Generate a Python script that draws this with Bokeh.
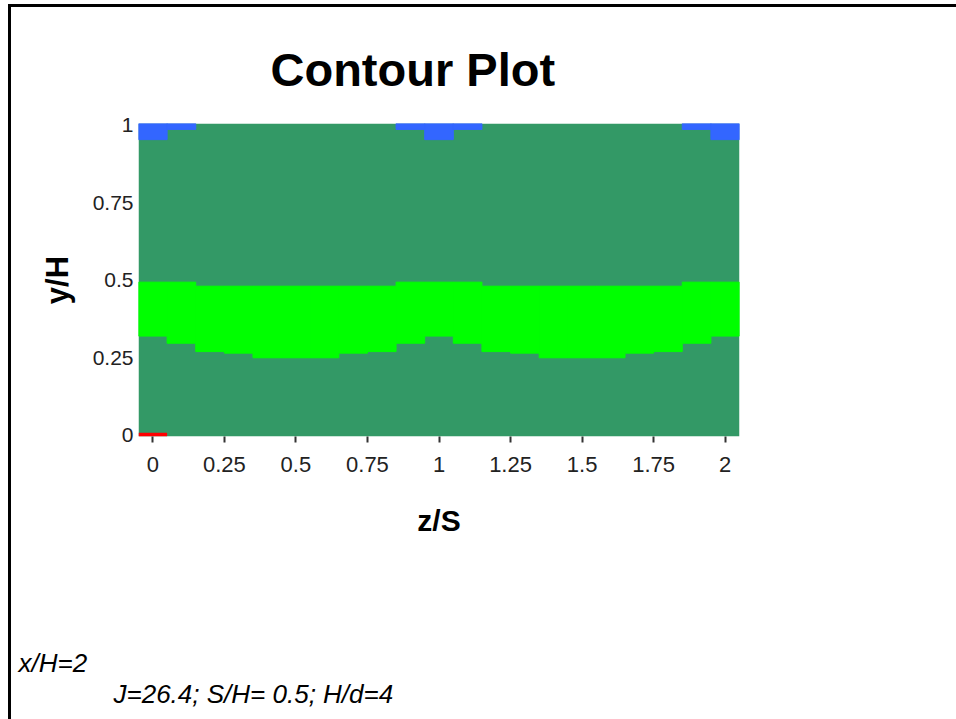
from bokeh.plotting import figure
from bokeh.models import Range1d, FixedTicker, Title, InlineStyleSheet
from bokeh.embed import file_html
from bokeh.resources import INLINE

# ---- data ----
z = [0.0, 0.1, 0.2, 0.3, 0.4, 0.5, 0.6, 0.7, 0.8, 0.9, 1.0,
     1.1, 1.2, 1.3, 1.4, 1.5, 1.6, 1.7, 1.8, 1.9, 2.0]
dz = 0.1
y_lo, y_hi = -0.004, 1.006
# lower / upper edge of the light-green band per z column
green_lo = [0.320, 0.297, 0.270, 0.265, 0.250, 0.250, 0.250, 0.265, 0.270, 0.297, 0.320,
            0.297, 0.270, 0.265, 0.250, 0.250, 0.250, 0.265, 0.270, 0.297, 0.320]
green_hi = [0.494, 0.494, 0.481, 0.481, 0.481, 0.481, 0.481, 0.481, 0.481, 0.494, 0.494,
            0.494, 0.481, 0.481, 0.481, 0.481, 0.481, 0.481, 0.481, 0.494, 0.494]
# lower edge of the blue band (None = no blue in column)
blue_lo = [0.954, 0.987, None, None, None, None, None, None, None, 0.987, 0.954,
           0.987, None, None, None, None, None, None, None, 0.987, 0.954]
# upper edge of the red band (None = no red)
red_hi = [0.008, None, None, None, None, None, None, None, None, None, None,
          None, None, None, None, None, None, None, None, None, None]

x_ticks = [0, 0.25, 0.5, 0.75, 1, 1.25, 1.5, 1.75, 2]
x_tick_labels = ["0", "0.25", "0.5", "0.75", "1", "1.25", "1.5", "1.75", "2"]
y_ticks = [0, 0.25, 0.5, 0.75, 1]
y_tick_labels = ["0", "0.25", "0.5", "0.75", "1"]

title_text = "Contour Plot"
x_label = "z/S"
y_label = "y/H"
note1 = "x/H=2"
note2 = "J=26.4; S/H= 0.5; H/d=4"

DARK = "#339966"
LIGHT = "#00FF00"
BLUE = "#3366FF"
RED = "#FF0000"
FONT = "Liberation Sans"

frame_css = InlineStyleSheet(css="""
:host { position: relative; }
:host::after {
  content: ''; position: absolute; left: 8px; top: 4px; right: 0; bottom: 0;
  border-left: 3px solid #000; border-top: 3px solid #000; pointer-events: none;
}
""")

p = figure(width=956, height=719, output_backend="svg", toolbar_location=None,
           x_range=Range1d(-0.05, 2.05), y_range=Range1d(y_lo, y_hi),
           min_border_left=138, min_border_right=217, min_border_top=123, min_border_bottom=283,
           stylesheets=[frame_css])
p.background_fill_color = "white"
p.border_fill_color = "white"
p.outline_line_color = None
p.xgrid.visible = False
p.ygrid.visible = False

# title
p.title.text = title_text
p.title.text_font = FONT
p.title.text_font_size = "47px"
p.title.text_font_style = "bold"
p.title.text_color = "black"
p.title.align = "left"
p.title.offset = 132
p.title.standoff = 56

# dark green base over the whole grid
p.quad(left=[z[0] - dz / 2], right=[z[-1] + dz / 2], bottom=[y_lo], top=[y_hi],
       fill_color=DARK, line_color=None)

# light green band
p.quad(left=[v - dz / 2 for v in z], right=[v + dz / 2 for v in z],
       bottom=green_lo, top=green_hi, fill_color=LIGHT, line_color=LIGHT, line_width=1)

# blue band at top
bz = [v for v, b in zip(z, blue_lo) if b is not None]
bb = [b for b in blue_lo if b is not None]
p.quad(left=[v - dz / 2 for v in bz], right=[v + dz / 2 for v in bz],
       bottom=bb, top=[y_hi] * len(bb), fill_color=BLUE, line_color=BLUE, line_width=1)

# red band at bottom
rz = [v for v, r in zip(z, red_hi) if r is not None]
rr = [r for r in red_hi if r is not None]
p.quad(left=[v - dz / 2 for v in rz], right=[v + dz / 2 for v in rz],
       bottom=[y_lo] * len(rr), top=rr, fill_color=RED, line_color=None)

# axes
xa = p.xaxis[0]
xa.ticker = FixedTicker(ticks=x_ticks)
xa.major_label_overrides = {t: l for t, l in zip(x_ticks, x_tick_labels)}
xa.axis_line_color = None
xa.major_tick_line_color = "#333333"
xa.major_tick_line_width = 2
xa.major_tick_in = 0
xa.major_tick_out = 6
xa.minor_tick_line_color = None
xa.major_label_standoff = 14
xa.major_label_text_font = FONT
xa.major_label_text_font_size = "22px"
xa.major_label_text_color = "#222222"
xa.axis_label = x_label
xa.axis_label_text_font = FONT
xa.axis_label_text_font_size = "30px"
xa.axis_label_text_font_style = "bold"
xa.axis_label_text_color = "black"
xa.axis_label_standoff = 29

ya = p.yaxis[0]
ya.ticker = FixedTicker(ticks=y_ticks)
ya.major_label_overrides = {t: l for t, l in zip(y_ticks, y_tick_labels)}
ya.axis_line_color = None
ya.major_tick_line_color = None
ya.minor_tick_line_color = None
ya.major_tick_in = 0
ya.major_tick_out = 0
ya.major_label_standoff = 5
ya.major_label_text_font = FONT
ya.major_label_text_font_size = "21px"
ya.major_label_text_color = "#222222"
ya.axis_label = y_label
ya.axis_label_text_font = FONT
ya.axis_label_text_font_size = "31px"
ya.axis_label_text_font_style = "bold"
ya.axis_label_text_color = "black"
ya.axis_label_standoff = 15

# blank spacer between the axis title and the notes
spacer = Title(text=" ", text_font=FONT, text_font_size="10px", standoff=92)
p.add_layout(spacer, "below")

# notes below the chart
t1 = Title(text=note1, text_font=FONT, text_font_size="26px", text_font_style="italic",
           text_color="black", align="left", offset=-120, standoff=2, vertical_align="bottom")
t2 = Title(text=note2, text_font=FONT, text_font_size="26px", text_font_style="italic",
           text_color="black", align="left", offset=-25, standoff=0, vertical_align="top")
p.add_layout(t1, "below")
p.add_layout(t2, "below")

open("out.html", "w").write(file_html(p, INLINE))
